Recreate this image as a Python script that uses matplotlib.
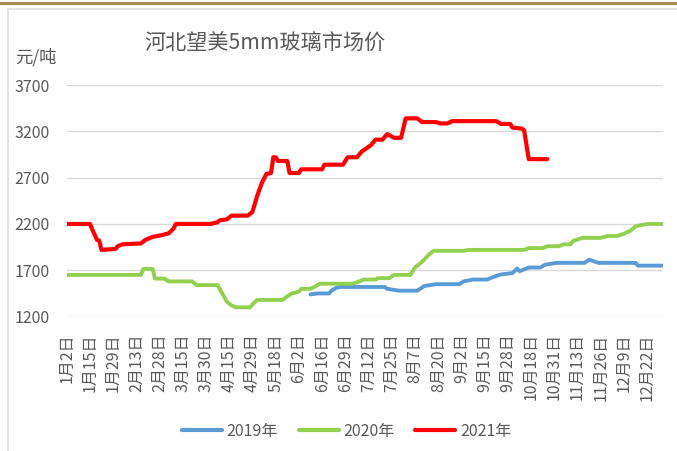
import matplotlib.pyplot as plt
from matplotlib.lines import Line2D

plt.rcParams['font.family'] = ['Noto Sans CJK SC', 'DejaVu Sans']

# x labels (one every 10 trading days)
tick_labels = ['1月2日', '1月15日', '1月29日', '2月13日', '2月28日', '3月15日', '3月30日',
               '4月15日', '4月29日', '5月18日', '6月2日', '6月16日', '6月29日', '7月12日',
               '7月25日', '8月7日', '8月20日', '9月2日', '9月15日', '9月28日', '10月18日',
               '10月31日', '11月13日', '11月26日', '12月9日', '12月22日']
n_days = 258

# 2019
x_2019 = [105, 108, 113, 114, 116, 118, 137, 138, 143, 151, 154, 159, 169, 171, 175, 181,
          184, 187, 192, 194, 195, 199, 204, 206, 211, 223, 225, 229, 245, 246, 257]
y_2019 = [1440, 1450, 1450, 1480, 1510, 1520, 1520, 1500, 1480, 1480, 1530, 1550, 1550, 1580,
          1600, 1600, 1630, 1655, 1670, 1720, 1690, 1730, 1730, 1760, 1780, 1780, 1815, 1780,
          1780, 1750, 1750]

# 2020
x_2020 = [0, 32, 33, 37, 38, 42, 44, 54, 56, 65, 67, 69, 71, 73, 79, 80, 82, 93, 95, 97,
          100, 101, 105, 107, 109, 123, 125, 128, 133, 134, 139, 141, 148, 150, 153, 156,
          158, 171, 173, 197, 199, 205, 207, 212, 214, 217, 218, 222, 230, 233, 237, 240,
          243, 245, 250, 257]
y_2020 = [1650, 1650, 1715, 1715, 1610, 1610, 1580, 1580, 1540, 1540, 1450, 1360, 1320, 1300,
          1300, 1330, 1380, 1380, 1420, 1450, 1470, 1500, 1500, 1525, 1555, 1555, 1570, 1600,
          1600, 1615, 1615, 1650, 1650, 1730, 1790, 1870, 1910, 1910, 1920, 1920, 1940, 1940,
          1960, 1960, 1980, 1980, 2015, 2050, 2050, 2070, 2070, 2095, 2130, 2175, 2200, 2200]

# 2021
x_2021 = [0, 10, 13, 14, 15, 21, 22, 24, 32, 34, 37, 41, 44, 46, 47, 62, 65, 66, 69, 71,
          78, 80, 82, 84, 86, 88, 89, 90, 91, 95, 96, 100, 101, 110, 111, 119, 121, 125,
          127, 131, 133, 136, 138, 141, 144, 146, 151, 153, 159, 161, 164, 166, 185, 187,
          191, 192, 196, 197, 199, 207]
y_2021 = [2200, 2200, 2030, 2020, 1920, 1930, 1960, 1980, 1990, 2030, 2060, 2080, 2100, 2150,
          2200, 2200, 2220, 2240, 2250, 2290, 2290, 2330, 2500, 2640, 2740, 2750, 2920, 2920,
          2880, 2880, 2750, 2750, 2790, 2790, 2840, 2840, 2920, 2920, 2980, 3050, 3110, 3110,
          3170, 3130, 3130, 3340, 3340, 3300, 3300, 3285, 3285, 3310, 3310, 3280, 3280, 3240,
          3230, 3210, 2900, 2900]

grey = '#595959'
fig = plt.figure(figsize=(6.77, 4.51), dpi=100)
ax = fig.add_axes([0.0985, 0.298, 0.8815, 0.5135])

ax.plot(x_2019, y_2019, color='#5B9BD5', lw=2.8, solid_capstyle='round', solid_joinstyle='round')
ax.plot(x_2020, y_2020, color='#92D050', lw=2.8, solid_capstyle='round', solid_joinstyle='round')
ax.plot(x_2021, y_2021, color='#FF0000', lw=3.0, solid_capstyle='round', solid_joinstyle='round')

ax.set_xlim(0, n_days - 1)
ax.set_ylim(1200, 3700)
ax.set_yticks(range(1200, 3701, 500))
ax.set_xticks(range(0, n_days, 10))
ax.set_xticklabels(tick_labels, rotation=90)
ax.grid(axis='y', color='#D9D9D9', lw=1)
ax.set_axisbelow(True)
for s in ax.spines.values():
    s.set_visible(False)
ax.tick_params(length=0, colors=grey, labelsize=11.5)
ax.tick_params(axis='y', pad=12)
ax.tick_params(axis='x', pad=12)

fig.text(0.391, 0.905, '河北望美5mm玻璃市场价', ha='center', va='center', fontsize=15.2, color=grey)
fig.text(0.022, 0.872, '元/吨', ha='left', va='center', fontsize=12.5, color=grey)

handles = [Line2D([], [], color=c, lw=3, solid_capstyle='round') for c in ['#5B9BD5', '#92D050', '#FF0000']]
fig.legend(handles, ['2019年', '2020年', '2021年'], loc='center', bbox_to_anchor=(0.512, 0.044),
           ncol=3, frameon=False, fontsize=11.5, labelcolor=grey, handlelength=2.5,
           columnspacing=1.3, handletextpad=0.3)

# chart frame and top rule
fig.add_artist(Line2D([0, 1], [0.993, 0.993], color='#AA8B50', lw=2.2, transform=fig.transFigure))
fig.add_artist(Line2D([0.0115, 0.0115, 1], [0, 0.981, 0.981], color='#E3E3E3', lw=1.4, transform=fig.transFigure))

fig.savefig('out.png', dpi=100)
